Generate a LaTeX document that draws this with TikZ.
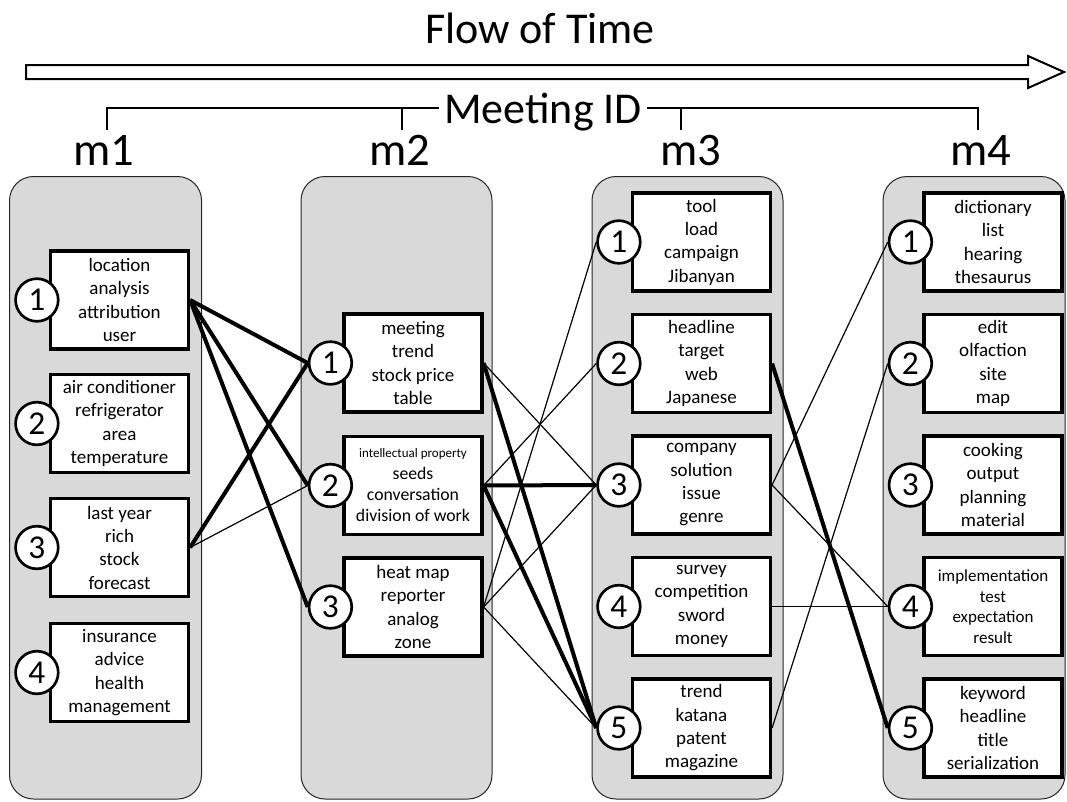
\documentclass[tikz,border=0pt]{standalone}
\usepackage{fontspec}
\setmainfont{Carlito}
\pgfdeclarelayer{bg}
\pgfdeclarelayer{edges}
\pgfsetlayers{bg,edges,main}
\begin{document}
\begin{tikzpicture}[x=0.75pt,y=-0.75pt,
  panel/.style={draw=black!85, line width=0.75pt, fill=gray!30, rounded corners=18pt},
  kw/.style={draw, line width=2.4pt, fill=white, minimum width=103.5pt, minimum height=73.5pt,
    inner sep=0pt, align=center, font=\fontsize{14.25}{17.5}\selectfont},
  num/.style={circle, draw, line width=2pt, fill=white, minimum size=32pt, inner sep=0pt,
    font=\fontsize{25}{25}\selectfont},
  weak/.style={line width=0.9pt},
  strong/.style={line width=3pt},
  big/.style={font=\fontsize{33}{33}\selectfont, inner sep=0pt, anchor=base},
  mlabel/.style={font=\fontsize{35}{35}\selectfont, inner sep=0pt, anchor=base},
  bracket/.style={line width=1.5pt}
]
\useasboundingbox (0,0) rectangle (1067,801);

% panels
\begin{pgfonlayer}{bg}
\draw[panel] (9.5,176.5) rectangle (201.5,799);
\draw[panel] (301,176.5) rectangle (492,799);
\draw[panel] (592,176.5) rectangle (783,799);
\draw[panel] (883,176.5) rectangle (1065,799);
\end{pgfonlayer}

% title and arrow
\node[big] (flow) at (540,43) {Flow of Time};
\draw[line width=1.5pt, fill=white, line join=miter]
  (26,65) -- (1028,65) -- (1028,56) -- (1064,72) -- (1028,88) -- (1028,79) -- (26,79) -- cycle;

% meeting id bracket
\coordinate (t1) at (107,130);
\coordinate (t2) at (402,130);
\coordinate (t3) at (681,130);
\coordinate (t4) at (978,130);
\draw[bracket] (t1) -- (107,108) -- (978,108) -- (t4);
\draw[bracket] (t2) -- (402,108);
\draw[bracket] (t3) -- (681,108);
\node[big, fill=white, inner xsep=4pt, inner ysep=0pt] (mid) at (543,123) {Meeting ID};

\node[mlabel] (m1) at (104,165) {m1};
\node[mlabel] (m2) at (400,165) {m2};
\node[mlabel] (m3) at (691,165) {m3};
\node[mlabel] (m4) at (981,165) {m4};

% meeting 1
\node[kw] (b11) at (119.5,300) {location\\analysis\\attribution\\user};
\node[kw] (b12) at (119.5,423.5) {air conditioner\\refrigerator\\area\\temperature};
\node[kw] (b13) at (119.5,547.5) {last year\\rich\\stock\\forecast};
\node[kw] (b14) at (119.5,672.5) {insurance\\advice\\health\\management};
\node[num] (c11) at ([xshift=-9pt]b11.west) {1};
\node[num] (c12) at ([xshift=-9pt]b12.west) {2};
\node[num] (c13) at ([xshift=-9pt]b13.west) {3};
\node[num] (c14) at ([xshift=-9pt]b14.west) {4};

% meeting 2
\node[kw] (b21) at (413,363) {meeting\\trend\\stock price\\table};
\node[kw, font=\fontsize{13.3}{16}\selectfont] (b22) at (413,485.5)
  {{\fontsize{9.75}{11}\selectfont intellectual property}\\seeds\\conversation\\division of work};
\node[kw] (b23) at (413,607) {heat map\\reporter\\analog\\zone};
\node[num] (c21) at ([xshift=-9pt]b21.west) {1};
\node[num] (c22) at ([xshift=-9pt]b22.west) {2};
\node[num] (c23) at ([xshift=-9pt]b23.west) {3};

% meeting 3
\node[kw] (b31) at (701.5,242) {tool\\load\\campaign\\Jibanyan};
\node[kw] (b32) at (701.5,363.5) {headline\\target\\web\\Japanese};
\node[kw] (b33) at (701.5,485) {company\\solution\\issue\\genre};
\node[kw] (b34) at (701.5,606.5) {survey\\competition\\sword\\money};
\node[kw] (b35) at (701.5,728) {trend\\katana\\patent\\magazine};
\node[num] (c31) at ([xshift=-9pt]b31.west) {1};
\node[num] (c32) at ([xshift=-9pt]b32.west) {2};
\node[num] (c33) at ([xshift=-9pt]b33.west) {3};
\node[num] (c34) at ([xshift=-9pt]b34.west) {4};
\node[num] (c35) at ([xshift=-9pt]b35.west) {5};

% meeting 4
\node[kw] (b41) at (993,242) {dictionary\\list\\hearing\\thesaurus};
\node[kw] (b42) at (993,363.5) {edit\\olfaction\\site\\map};
\node[kw] (b43) at (993,485) {cooking\\output\\planning\\material};
\node[kw, font=\fontsize{12.75}{15.4}\selectfont] (b44) at (993,606.5) {implementation\\test\\expectation\\result};
\node[kw] (b45) at (993,728) {keyword\\headline\\title\\serialization};
\node[num] (c41) at ([xshift=-9pt]b41.west) {1};
\node[num] (c42) at ([xshift=-9pt]b42.west) {2};
\node[num] (c43) at ([xshift=-9pt]b43.west) {3};
\node[num] (c44) at ([xshift=-9pt]b44.west) {4};
\node[num] (c45) at ([xshift=-9pt]b45.west) {5};

% connectors
\begin{pgfonlayer}{edges}
\draw[strong] (b11.east) -- (c21.west);
\draw[strong] (b11.east) -- (c22.west);
\draw[strong] (b11.east) -- (c23.west);
\draw[strong] (b13.east) -- (c21.west);
\draw[weak] (b13.east) -- (c22.west);

\draw[weak] (b21.east) -- (c33.west);
\draw[strong] (b21.east) -- (c35.west);
\draw[weak] (b22.east) -- (c32.west);
\draw[strong] (b22.east) -- (c33.west);
\draw[strong] (b22.east) -- (c35.west);
\draw[weak] (b23.east) -- (c31.west);
\draw[weak] (b23.east) -- (c33.west);
\draw[weak] (b23.east) -- (c35.west);

\draw[strong] (b32.east) -- (c45.west);
\draw[weak] (b33.east) -- (c41.west);
\draw[weak] (b33.east) -- (c44.west);
\draw[weak] (b34.east) -- (c44.west);
\draw[weak] (b35.east) -- (c42.west);
\end{pgfonlayer}
\end{tikzpicture}
\end{document}
